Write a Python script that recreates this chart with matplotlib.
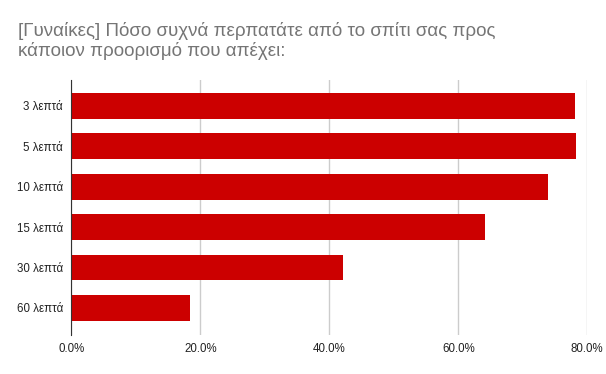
import matplotlib.pyplot as plt
from matplotlib.ticker import FuncFormatter

# Data
categories = ['3 λεπτά', '5 λεπτά', '10 λεπτά', '15 λεπτά', '30 λεπτά', '60 λεπτά']
values = [78.1, 78.2, 73.9, 64.2, 42.2, 18.4]  # percent
x_ticks = [0, 20, 40, 60, 80]
title = '[Γυναίκες] Πόσο συχνά περπατάτε από το σπίτι σας προς\nκάποιον προορισμό που απέχει:'

plt.rcParams['font.family'] = ['Liberation Sans', 'DejaVu Sans']

fig = plt.figure(figsize=(6.06, 3.74), dpi=100)
ax = fig.add_axes([0.1177, 0.1043, 0.8514, 0.6818])

y = list(range(len(categories)))
ax.barh(y, values, height=0.64, color='#cc0000', zorder=3)

ax.set_xlim(0, 80)
ax.set_ylim(len(categories) - 0.33, -0.64)
ax.set_xticks(x_ticks)
ax.xaxis.set_major_formatter(FuncFormatter(lambda v, p: '{:.1f}%'.format(v)))
ax.set_yticks(y)
ax.set_yticklabels(categories)
ax.tick_params(axis='both', length=0, labelsize=8.3, colors='#222222')
ax.tick_params(axis='x', pad=6)
ax.tick_params(axis='y', pad=6)

ax.grid(axis='x', color='#cccccc', linewidth=1, zorder=0)
for s in ['top', 'right', 'bottom']:
    ax.spines[s].set_visible(False)
ax.spines['left'].set_color('#333333')
ax.spines['left'].set_zorder(4)

fig.text(0.030, 0.940, title, fontsize=13.5, color='#757575', va='top', ha='left', linespacing=1.12)

fig.savefig('out.png', dpi=100)
